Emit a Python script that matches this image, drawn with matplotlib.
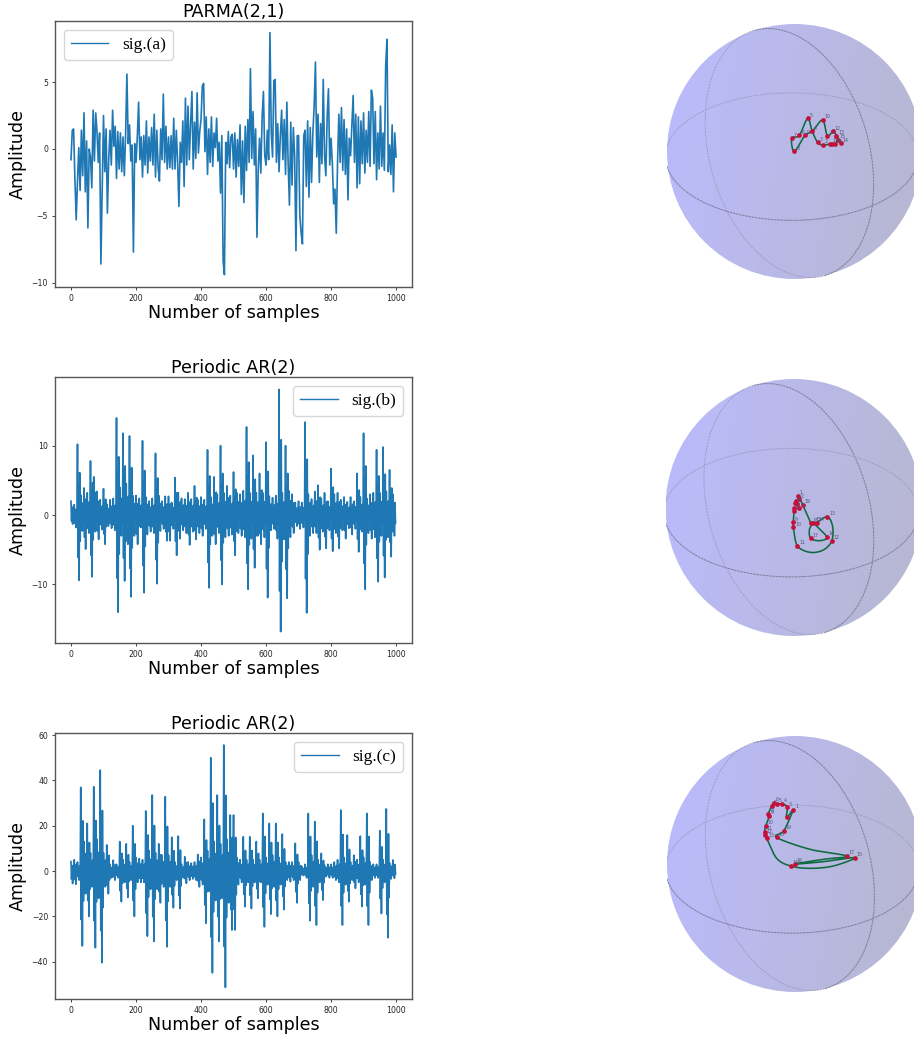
import numpy as np
import matplotlib
matplotlib.use('Agg')
import matplotlib.pyplot as plt
from matplotlib.patches import Arc, Circle

W, H = 914, 1038

# signal (a), one value read every 4 samples
sig_a = [
    -0.8, 1.4, 1.5, -2.2, -5.3, -2.4, 0.1, -3.1, 1.4, -2.0, 2.7, -3.2, 0.6, -5.9, 0.0, -0.6, -2.9, 2.9, -0.9, 2.7, 1.3, -1.0, 1.2, -8.6, -3.0,
    2.5, -1.7, 1.5, -4.8, -0.8, 1.4, -1.2, 2.9, 0.2, 1.7, -2.2, 1.3, -1.5, 1.2, -1.7, 0.9, -2.0, 1.1, 5.6, 0.4, 1.8, -0.9, 0.3, -7.7, 0.4,
    -1.0, 0.9, 3.5, -0.8, 0.9, -2.1, 1.0, -1.2, 2.1, -1.8, 0.9, -0.9, 1.6, -1.2, 2.6, -2.1, 1.4, -1.4, -2.4, 1.5, -0.8, 4.1, -1.0, 1.7, -1.5,
    0.9, -1.4, 1.0, -1.5, 2.3, -1.5, 1.4, -1.0, -4.3, 0.5, -1.0, 2.1, -2.8, 3.8, -1.2, 3.2, -0.8, 1.9, 4.3, -1.5, 2.0, -0.7, 4.2, -0.3, 1.3,
    2.2, 4.7, 4.9, -0.2, 2.4, -1.9, 1.5, -1.0, 2.4, -1.3, 1.2, 0.1, 2.3, -0.9, 0.5, -3.3, 1.0, -8.4, -9.4, 0.5, -1.1, 1.3, -1.4, 0.9, 1.1,
    -1.5, 1.2, -2.1, 0.7, -1.3, 1.8, -3.4, 0.6, -4.0, 1.7, -1.6, 2.2, -1.0, 6.0, -0.7, 2.8, -1.2, 1.5, -6.6, -1.5, 0.8, -1.8, 2.4, 4.3, -0.5,
    -1.2, 1.4, -0.8, 8.7, 1.3, -0.6, 5.1, 5.2, -1.0, 1.9, -1.7, 1.0, 2.9, -0.8, 2.2, -1.9, 3.5, -1.1, -4.2, 2.0, -2.7, 1.6, -0.5, -7.6, 1.0,
    1.0, -5.0, -6.3, -7.1, 1.0, 1.4, -2.8, 2.1, -3.6, 1.6, -2.5, 1.2, 3.2, 6.5, -0.6, 2.6, -2.5, 1.9, -1.1, 5.2, -0.5, -2.0, 2.4, 4.5, -1.2,
    0.8, -1.1, -4.1, -3.0, -6.3, -1.0, 2.6, -1.0, 3.1, -1.6, 2.2, -1.9, 1.5, -3.8, 0.8, -0.5, 1.7, 4.0, -1.0, 2.6, -2.9, 2.4, -2.6, 2.1, -1.1,
    2.7, -1.8, 1.4, -1.0, 2.8, -1.3, 4.4, 3.8, -1.1, 2.8, -2.3, 1.2, -1.5, 3.2, -1.3, 1.2, -1.6, 6.2, 8.2, -1.7, 0.3, -1.9, 1.8, -3.2, 1.2, -0.6,
]

# signals (b) and (c) are too dense to follow, so read top and bottom of each 10 sample bin
sig_b_upper = [
    2.0, 1.5, 10.2, 2.9, 3.9, 3.2, 7.8, 5.5, 3.4, 2.2,
    3.8, 1.6, 2.2, 2.4, 14.0, 4.0, 11.8, 4.5, 11.4, 2.8,
    2.8, 2.4, 10.7, 2.6, 2.0, 2.4, 8.9, 2.8, 2.0, 2.7,
    2.7, 1.8, 5.4, 3.2, 2.4, 2.3, 3.2, 2.3, 4.2, 2.2,
    2.6, 2.2, 9.4, 2.6, 5.5, 3.0, 10.0, 3.2, 4.2, 2.8,
    6.2, 3.2, 3.0, 3.5, 12.7, 3.2, 8.6, 3.2, 6.0, 3.2,
    10.5, 2.7, 2.5, 2.8, 18.1, 3.2, 10.0, 3.5, 3.0, 1.8,
    2.0, 1.8, 13.4, 3.0, 2.3, 3.4, 4.3, 2.4, 3.2, 2.0,
    6.7, 3.0, 3.2, 2.2, 2.6, 1.9, 2.6, 2.0, 6.0, 2.6,
    11.8, 2.4, 3.0, 3.2, 9.4, 3.2, 9.8, 3.4, 6.5, 3.0,
]
sig_b_lower = [
    -1.3, -1.8, -9.4, -2.3, -4.9, -2.6, -8.9, -2.4, -3.5, -2.1,
    -4.2, -1.6, -1.9, -2.2, -14.0, -3.0, -9.5, -4.2, -11.8, -3.0,
    -4.2, -1.8, -11.2, -2.8, -2.4, -2.6, -9.9, -2.3, -2.0, -3.7,
    -3.7, -2.0, -5.8, -3.4, -2.2, -2.6, -4.3, -2.4, -3.5, -2.6,
    -3.0, -2.0, -10.5, -3.0, -4.2, -2.6, -10.0, -3.2, -3.0, -2.8,
    -5.8, -2.6, -3.0, -3.2, -10.7, -3.4, -7.6, -3.0, -4.2, -3.2,
    -11.9, -2.2, -2.0, -3.4, -16.8, -3.5, -12.0, -3.2, -2.6, -1.6,
    -2.0, -1.8, -14.1, -3.0, -2.6, -2.6, -5.0, -2.4, -4.8, -2.2,
    -5.2, -2.6, -4.8, -2.2, -3.4, -1.9, -2.8, -2.0, -5.3, -2.4,
    -10.7, -2.6, -3.4, -3.2, -9.6, -3.0, -9.0, -3.2, -6.0, -3.0,
]
sig_c_upper = [
    4.2, 5.0, 4.0, 36.9, 13.0, 21.0, 8.0, 37.2, 14.0, 44.5,
    8.0, 11.5, 3.0, 4.8, 3.0, 13.0, 5.0, 12.0, 4.0, 20.0,
    6.0, 5.5, 5.0, 26.5, 9.0, 33.5, 8.0, 12.0, 7.0, 32.8,
    7.0, 14.9, 4.0, 15.4, 3.0, 6.3, 4.0, 3.5, 4.0, 7.3,
    6.0, 22.8, 9.0, 50.0, 13.0, 33.5, 12.0, 55.6, 14.0, 24.7,
    24.7, 6.0, 5.0, 15.1, 5.0, 15.1, 5.0, 13.0, 5.0, 25.4,
    6.0, 21.0, 7.0, 21.0, 6.0, 16.3, 4.0, 4.0, 4.0, 12.2,
    4.0, 2.0, 3.0, 25.4, 7.0, 21.8, 5.0, 7.8, 2.5, 3.0,
    3.0, 4.0, 5.0, 26.9, 6.0, 15.9, 4.0, 7.0, 5.0, 15.4,
    6.0, 25.4, 4.0, 3.0, 3.0, 17.8, 5.0, 27.4, 3.5, 4.9,
]
sig_c_lower = [
    -5.5, -5.8, -4.0, -33.0, -10.0, -20.0, -7.0, -33.8, -12.0, -40.4,
    -7.0, -10.0, -3.0, -4.0, -3.0, -13.5, -5.0, -11.6, -4.0, -20.0,
    -5.0, -5.0, -5.0, -28.7, -8.0, -31.0, -8.0, -14.0, -7.0, -33.4,
    -7.0, -16.2, -4.0, -16.5, -3.0, -5.4, -4.0, -3.5, -4.0, -7.0,
    -6.0, -23.0, -9.0, -44.9, -13.0, -31.0, -12.0, -51.3, -14.0, -26.0,
    -26.0, -6.0, -5.0, -15.7, -5.0, -16.5, -5.0, -12.0, -5.0, -24.6,
    -6.0, -19.0, -7.0, -20.0, -6.0, -17.0, -4.0, -4.7, -4.0, -14.0,
    -4.0, -2.0, -3.0, -21.9, -7.0, -23.8, -5.0, -12.8, -2.5, -3.0,
    -3.0, -4.0, -5.0, -23.8, -6.0, -13.5, -4.0, -7.6, -5.0, -15.7,
    -6.0, -23.8, -4.0, -3.0, -3.0, -18.7, -5.0, -29.4, -3.5, -3.2,
]

# sphere paths, in units of the sphere radius; marks says which ones get a red dot
path_a_x = [.280, .220, .181, .139, .103, .038, -.022, -.001, .082, .139, .220, .257, .303, .329, .361, .342, .316, .296]
path_a_y = [.059, .051, .072, .158, .259, .126, .103, .001, .126, .158, .246, .124, .158, .124, .064, .090, .056, .056]
marks_a = [0, 1, 2, 3, 4, 5, 6, 7, 8, 10, 11, 12, 13, 14, 15, 16, 17]

path_b_x = [.0285, .0415, .0156, .0078, .0259, .0415, .0026, .0, -.0052, -.0052, .0259, .1245, .2283, .2931, .3009,
            .2594, .1764, .1505, .2542, .2023, .1297, .1193, .1297, .0675, .0415]
path_b_y = [.0895, .0636, .0532, .0324, .0272, -.0065, -.0065, -.0246, -.1154, -.1543, -.2970, -.3489, -.3307, -.2607, -.1492,
            -.0713, -.1180, -.1180, -.2269, -.2581, -.2399, -.1751, -.1232, .0195, .0843]
marks_b = [0, 1, 2, 3, 4, 5, 6, 7, 8, 9, 10, 13, 15, 16, 17, 18, 20, 22, 23]

path_c_x = [-.0130, -.0651, -.0599, -.0990, -.1432, -.1641, -.1823, -.2083, -.2005, -.2292, -.2370, -.2370, -.2214, -.1432,
            -.0339, .1172, .2995, .4688, .2214, .0, .2214, .4036, .1172, -.1432, -.0859, -.0130]
path_c_y = [.4219, .3698, .4427, .4688, .4688, .4792, .4557, .3906, .3750, .2969, .2526, .2266, .2005, .0443,
            -.0156, -.0339, -.0156, .0495, .0182, .0, .0365, .0625, .1146, .2083, .2604, .4219]
marks_c = [0, 1, 2, 3, 4, 5, 6, 7, 8, 9, 10, 11, 12, 14, 17, 19, 21, 23, 24]

titles = ['PARMA(2,1)', 'Periodic AR(2)', 'Periodic AR(2)']
legend_labels = ['sig.(a)', 'sig.(b)', 'sig.(c)']


def px_axes(left, top, right, bottom, **kw):
    return fig.add_axes([left / W, 1 - bottom / H, (right - left) / W, (bottom - top) / H], **kw)


def dense(upper, lower):
    # peak and trough of each bin, the rest of the bin swings inside them
    y = []
    for u, l in zip(upper, lower):
        y += [u, 0.65 * l, 0.45 * u, l, 0.6 * u, 0.4 * l]
    y = np.array(y)
    return np.arange(len(y)) * 10 / 6, y


def smooth(xs, ys, n=12):
    # Catmull-Rom through the read points
    p = np.column_stack([xs, ys])
    p = np.vstack([p[0], p, p[-1]])
    out = []
    t = np.linspace(0, 1, n, endpoint=False)[:, None]
    for i in range(1, len(p) - 2):
        a, b, c, d = p[i - 1], p[i], p[i + 1], p[i + 2]
        out.append(0.5 * (2 * b + (c - a) * t + (2 * a - 5 * b + 4 * c - d) * t**2 + (3 * b - a - 3 * c + d) * t**3))
    out.append(p[-2][None, :])
    return np.vstack(out)


fig = plt.figure(figsize=(W / 100, H / 100), dpi=100)

x_a = np.arange(len(sig_a)) * 4
x_b, y_b = dense(sig_b_upper, sig_b_lower)
x_c, y_c = dense(sig_c_upper, sig_c_lower)

panels = [
    (x_a, sig_a, (21, 287), (-10.32, 9.57), [-10, -5, 0, 5], 'upper left'),
    (x_b, y_b, (377, 642.7), (-18.4, 19.9), [-10, 0, 10], 'upper right'),
    (x_c, y_c, (733, 998.7), (-56.3, 60.9), [-40, -20, 0, 20, 40, 60], 'upper right'),
]

for i, (x, y, (top, bottom), ylim, yticks, loc) in enumerate(panels):
    ax = px_axes(55, top, 412, bottom)
    ax.plot(x, y, color='#1f77b4', lw=1.2, label=legend_labels[i])
    ax.set_xlim(-49.2, 1049)
    ax.set_ylim(*ylim)
    ax.set_xticks([0, 200, 400, 600, 800, 1000])
    ax.set_yticks(yticks)
    ax.tick_params(labelsize=5.6, length=2.5, width=0.6, pad=2.5, colors='#222222')
    for s in ax.spines.values():
        s.set_linewidth(1.0)
        s.set_color('#555555')
    ax.set_title(titles[i], fontsize=12.6, pad=2.5)
    ax.set_xlabel('Number of samples', fontsize=12.6, labelpad=1)
    ax.set_ylabel('Amplitude', fontsize=12.6)
    ax.yaxis.set_label_coords(-0.078, 0.5)
    leg = ax.legend(loc=loc, prop={'family': 'Liberation Serif', 'size': 12.5}, handlelength=2.15)
    leg.get_lines()[0].set_linewidth(1.0)

# spheres
shade = np.linspace(0, 1, 256)[None, :] * 0.85 + np.linspace(0, 1, 256)[:, None] * 0.15
colors = np.zeros((256, 256, 3))
colors[..., 0] = (187 - 4 * shade) / 255
colors[..., 1] = (187 - 4 * shade) / 255
colors[..., 2] = (255 - 48 * shade) / 255

spheres = [
    (794.5, 151.5, 127.5, path_a_x, path_a_y, marks_a),
    (794, 507.5, 128.5, path_b_x, path_b_y, marks_b),
    (795, 864, 128, path_c_x, path_c_y, marks_c),
]

for cx, cy, r, px, py, marks in spheres:
    ax = px_axes(cx - r, cy - r, cx + r, cy + r)
    ax.set_xlim(-1, 1)
    ax.set_ylim(-1, 1)
    ax.axis('off')
    im = ax.imshow(colors, extent=(-1, 1, -1, 1), origin='upper', aspect='auto')
    im.set_clip_path(Circle((0, 0), 1, transform=ax.transData))

    # meridian and equator: far half lighter, near half darker
    for center, width, height, angle in [
        ((-0.040, -0.012), 2.0, 1.25, 106),
        ((-0.022, -0.040), 1.98, 1.00, 0),
    ]:
        ax.add_patch(Arc(center, width, height, angle=angle, theta1=0, theta2=180,
                         color='#9d9dc2', lw=0.65, ls=(0, (2.5, 1))))
        ax.add_patch(Arc(center, width, height, angle=angle, theta1=180, theta2=360,
                         color='#8282a2', lw=0.75, ls=(0, (2.5, 0.6))))

    curve = smooth(px, py)
    ax.plot(curve[:, 0], curve[:, 1], color='#0f6b3f', lw=1.15, zorder=3)
    mx = np.array(px)[marks]
    my = np.array(py)[marks]
    ax.plot(mx, my, 'o', color='#c4103a', ms=3.4, mew=0, zorder=4)
    for k, (a, b) in enumerate(zip(mx, my)):
        ax.text(a + 0.014, b + 0.014, str(k + 1), fontsize=3.4, color='#555577', zorder=5)

fig.savefig('out.png', dpi=100)
